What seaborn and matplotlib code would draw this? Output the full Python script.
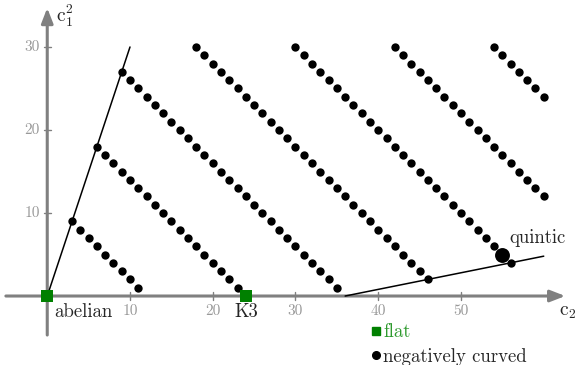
import numpy as np
import pandas as pd
import matplotlib
matplotlib.use("Agg")
import matplotlib.pyplot as plt
import seaborn as sns
from matplotlib.lines import Line2D

sns.set_style("white")
plt.rcParams['font.family'] = ['cmr10', 'DejaVu Serif']
plt.rcParams['mathtext.fontset'] = 'cm'
plt.rcParams['axes.unicode_minus'] = False

# Diagonals c1^2 + c2 = const, with the range of c1^2 values drawn on each
diag_sum = [12, 24, 36, 48, 60, 72, 84]
c1sq_min = [1, 1, 1, 2, 4, 12, 24]
c1sq_max = [9, 18, 27, 30, 30, 30, 30]

# Special surfaces
flat_c2 = [0, 24]
flat_c1sq = [0, 0]
flat_names = ["abelian", "K3"]
quintic_c2 = [55]
quintic_c1sq = [5]

# Bounding lines: BMY c1^2 = 3 c2, Noether c1^2 = (c2 - 36)/5
bmy_c2 = [0, 10]
bmy_c1sq = [0, 30]
noether_c2 = [36, 60]
noether_c1sq = [0, 4.8]

x_ticks = [10, 20, 30, 40, 50]
y_ticks = [10, 20, 30]

rows = []
for s, lo, hi in zip(diag_sum, c1sq_min, c1sq_max):
    for k in range(lo, hi + 1):
        c2 = s - k
        if (c2, k) in zip(quintic_c2, quintic_c1sq):
            continue
        rows.append({"c2": c2, "c1sq": k})
df = pd.DataFrame(rows)

fig = plt.figure(figsize=(5.78, 3.65), dpi=100)
ax = fig.add_axes([0, 0, 1, 1])
ax.set_xlim(-5.71, 64.14)
ax.set_ylim(-8.31, 35.66)
ax.set_axis_off()

gray = "#808080"
lgray = "#999999"

# axes arrows
ax.annotate("", xy=(62.6, 0), xytext=(-5.0, 0),
            arrowprops=dict(arrowstyle="-|>,head_length=0.9,head_width=0.35",
                            color=gray, lw=2.2, shrinkA=0, shrinkB=0), zorder=1)
ax.annotate("", xy=(0, 34.7), xytext=(0, -4.7),
            arrowprops=dict(arrowstyle="-|>,head_length=0.9,head_width=0.35",
                            color=gray, lw=2.2, shrinkA=0, shrinkB=0), zorder=1)
for t in x_ticks:
    ax.plot([t, t], [-0.45, 0.45], color=gray, lw=1.0, zorder=1)
    ax.text(t, -1.0, str(t), color=lgray, fontsize=11, ha="center", va="top")
for t in y_ticks:
    ax.plot([-0.45, 0.45], [t, t], color=gray, lw=1.0, zorder=1)
    ax.text(-0.9, t, str(t), color=lgray, fontsize=11, ha="right", va="center")

ax.text(62.9, -0.9, r"$\mathrm{c}_2$", fontsize=14, ha="center", va="top")
ax.text(1.0, 35.3, r"$\mathrm{c}_1^2$", fontsize=14, ha="left", va="top")

# bounding lines
ax.plot(bmy_c2, bmy_c1sq, color="black", lw=1.1, zorder=2)
ax.plot(noether_c2, noether_c1sq, color="black", lw=1.1, zorder=2)

# points
sns.scatterplot(data=df, x="c2", y="c1sq", ax=ax, color="black", s=36,
                linewidth=0, marker="o", zorder=3, legend=False)
ax.scatter(quintic_c2, quintic_c1sq, color="black", s=115, linewidths=0, zorder=3)
ax.scatter(flat_c2, flat_c1sq, color="#008000", s=85, marker="s", linewidths=0, zorder=4)

ax.text(0.8, -0.9, "abelian", fontsize=13.5, ha="left", va="top")
ax.text(24.0, -0.9, "K3", fontsize=13.5, ha="center", va="top")
ax.text(55.9, 5.9, "quintic", fontsize=13.5, ha="left", va="bottom")

handles = [Line2D([], [], marker="s", color="#008000", ls="", markersize=6),
           Line2D([], [], marker="o", color="black", ls="", markersize=5.5)]
leg = ax.legend(handles, ["flat", "negatively curved"], loc="upper left",
                bbox_to_anchor=(0.642, 0.114), frameon=False, fontsize=13.5,
                handlelength=0.5, handletextpad=0.15, labelspacing=0.35,
                borderpad=0, borderaxespad=0)
leg.get_texts()[0].set_color("#2e9a2e")

fig.savefig("out.png", dpi=100)
